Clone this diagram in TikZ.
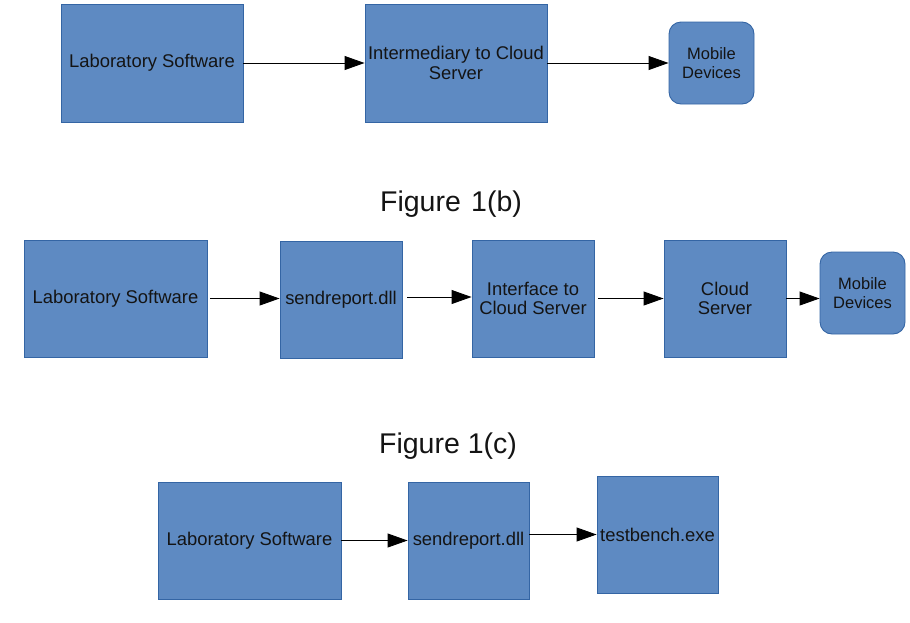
\documentclass[tikz,border=0pt]{standalone}
\usepackage{fontspec}
\setmainfont{Liberation Sans}
\usetikzlibrary{arrows.meta}
\definecolor{boxfill}{RGB}{94,138,194}
\definecolor{boxline}{RGB}{52,101,164}
\definecolor{ink}{RGB}{20,20,20}
\begin{document}
\begin{tikzpicture}[x=1pt,y=-1pt,
  block/.style={draw=boxline,fill=boxfill,line width=0.9pt,inner sep=0pt,
    text=ink,align=center,font=\fontsize{18.4}{19.5}\selectfont},
  device/.style={block,rounded corners=12pt,minimum width=85pt,minimum height=82pt,
    font=\fontsize{16.5}{18.5}\selectfont},
  flow/.style={-{Triangle[length=20pt,width=14pt]},line width=0.9pt,draw=black},
  caption/.style={text=ink,font=\fontsize{28.5}{30}\selectfont}]
\useasboundingbox (0,0) rectangle (910,622);

% top row
\node[block,minimum width=182pt,minimum height=118pt] (a1) at (152,63) {Laboratory Software};
\node[block,minimum width=182pt,minimum height=118pt] (a2) at (456,63) {Intermediary to Cloud\\Server};
\node[device] (a3) at (711.5,63) {Mobile\\Devices};
\draw[flow] (a1.east) -- (a2.west);
\draw[flow] (a2.east) -- (a3.west);

% Figure 1(b)
\node[caption] (capb) at (451,204.5) {Figure\hspace{0.36em}1(b)};
\node[block,minimum width=183pt,minimum height=117pt] (b1) at (115.5,298.5) {Laboratory Software};
\node[block,minimum width=122pt,minimum height=117pt] (b2) at (341,299.5) {sendreport.dll};
\node[block,minimum width=122pt,minimum height=117pt] (b3) at (533,298.5) {Interface to\\Cloud Server};
\node[block,minimum width=122pt,minimum height=117pt] (b4) at (725,298.5) {Cloud\\Server};
\node[device] (b5) at (862.5,293) {Mobile\\Devices};
\coordinate (b2out) at ([yshift=2.5pt]b2.east);
\draw[flow,shorten <=3pt] (b1.east) -- (b2.west |- b1.east);
\draw[flow,shorten <=5pt] (b2out) -- (b3.west |- b2out);
\draw[flow,shorten <=4pt] (b3.east) -- (b4.west);
\draw[flow] (b4.east) -- (b5.west |- b4.east);

% Figure 1(c)
\node[caption] (capc) at (448,446.5) {Figure 1(c)};
\node[block,minimum width=183pt,minimum height=117pt] (c1) at (249.5,540.5) {Laboratory Software};
\node[block,minimum width=121pt,minimum height=117pt] (c2) at (468.5,540.5) {sendreport.dll};
\node[block,minimum width=121pt,minimum height=117pt,text depth=0pt] (c3) at (657.5,534.5) {testbench.exe};
\draw[flow] (c1.east) -- (c2.west);
\draw[flow] (c2.east |- c3.west) -- (c3.west);
\end{tikzpicture}
\end{document}
